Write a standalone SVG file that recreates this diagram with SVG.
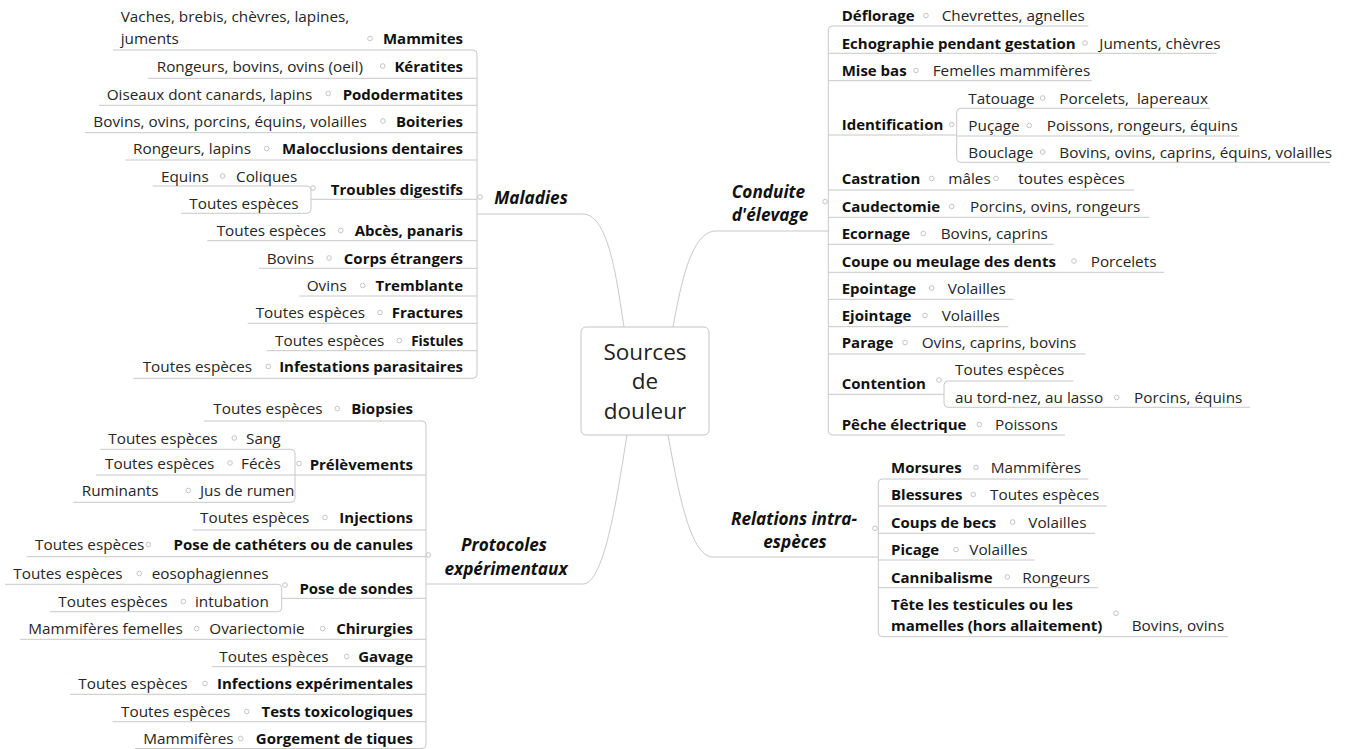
<svg xmlns="http://www.w3.org/2000/svg" width="1362" height="749" viewBox="0 0 1362 749">
<style>
text{font-family:"Open Sans","Noto Sans","DejaVu Sans",sans-serif;}
.r{font-size:15.3px;fill:#262626;}
.b{font-size:15px;font-weight:bold;fill:#111;}
.e{text-anchor:end;}
.m{text-anchor:middle;}
.bi{font-size:17.2px;font-weight:bold;font-style:italic;fill:#111;text-anchor:middle;}
.c{font-size:22.5px;fill:#222;text-anchor:middle;}
.ln{fill:none;stroke:#c8c8c8;stroke-width:1;}
.d{fill:#fff;stroke:#c4c4c4;stroke-width:1;}
</style>
<rect width="1362" height="749" fill="#fff"/>
<g id="connectors" class="ln">
<path d="M477,214 H583 C610,214 618,290 624,327"/>
<path d="M828.3,231 H716 C690,231 680,290 673,327"/>
<path d="M426,584 H583 C605,584 618,490 627,435"/>
<path d="M878.3,557 H713 C690,557 678,490 668,435"/>
<path d="M113,50 H473 Q477,50 477,54 V374.3 Q477,378.3 473,378.3 H133.3"/>
<path d="M147.7,78.3 H477 M99,105.3 H477 M85,132.7 H477 M125,160 H477 M311,199.3 H477 M207.3,240.7 H477 M259,268.3 H477 M299.3,296 H477 M247.7,323.3 H477 M266.7,350.7 H477"/>
<path d="M152.7,186 H307 Q311,186 311,190 V209.3 Q311,213.3 307,213.3 H181"/>
<path d="M204,421 H422 Q426,421 426,425 V744.5 Q426,748.5 422,748.5 H135"/>
<path d="M295,475 H426 M192.7,530 H426 M26.7,556.7 H426 M281.7,598.3 H426 M20,639.3 H426 M211.7,666.7 H426 M70,694.3 H426 M112.7,721.7 H426"/>
<path d="M100,449.3 H291 Q295,449.3 295,453.3 V498.3 Q295,502.3 291,502.3 H73.3 M96,475 H295"/>
<path d="M5,584.3 H277.7 Q281.7,584.3 281.7,588.3 V607.7 Q281.7,611.7 277.7,611.7 H50"/>
<path d="M1088.3,26 H832.3 Q828.3,26 828.3,30 V431 Q828.3,435 832.3,435 H1065"/>
<path d="M828.3,53.3 H1216.7 M828.3,80.7 H1091.7 M828.3,135 H956.7 M828.3,190 H1134.3 M828.3,217.3 H1149.3 M828.3,244.3 H1053.3 M828.3,272.3 H1164 M828.3,299.3 H1013.3 M828.3,326.7 H1008.3 M828.3,354 H1085.7 M828.3,394.3 H944"/>
<path d="M1210,108.3 H960.7 Q956.7,108.3 956.7,112.3 V158.3 Q956.7,162.3 960.7,162.3 H1330 M956.7,136 H1239.3"/>
<path d="M1073.3,381 H948 Q944,381 944,385 V403.3 Q944,407.3 948,407.3 H1250"/>
<path d="M1088.3,479 H882.3 Q878.3,479 878.3,483 V632.7 Q878.3,636.7 882.3,636.7 H1228.3"/>
<path d="M878.3,506 H1106.7 M878.3,533.3 H1095 M878.3,560 H1035 M878.3,587.7 H1098.3"/>
</g>
<g id="center">
<rect x="581" y="327" width="128" height="108" rx="5" fill="#fff" stroke="#c4c4c4"/>
<text class="c" x="645" y="359.5">Sources</text>
<text class="c" x="645" y="389">de</text>
<text class="c" x="645" y="418.5">douleur</text>
</g>
<g id="maladies">
<text class="bi" x="531" y="204.3">Maladies</text>
<circle class="d" cx="480" cy="197" r="2.3"/>
</g>
<g id="conduite">
<text class="bi" x="768.5" y="198">Conduite</text>
<text class="bi" x="770" y="221.3">d'élevage</text>
<circle class="d" cx="825" cy="201.7" r="2.3"/>
</g>
<g id="protocoles">
<text class="bi" x="504" y="551.3">Protocoles</text>
<text class="bi" x="506" y="574.5">expérimentaux</text>
<circle class="d" cx="428.3" cy="555" r="2.3"/>
</g>
<g id="relations">
<text class="bi" x="794" y="524.5">Relations intra-</text>
<text class="bi" x="795" y="548">espèces</text>
<circle class="d" cx="875" cy="528.3" r="2.3"/>
</g>

<g id="mammites"><text class="r" x="120.7" y="22">Vaches, brebis, chèvres, lapines,</text><text class="r" x="120.7" y="44.3">juments</text><circle class="d" cx="370" cy="38.5" r="2.3"/><text class="b e" x="463" y="44.3">Mammites</text></g>
<g id="keratites"><text class="r" x="156.7" y="72">Rongeurs, bovins, ovins (oeil)</text><circle class="d" cx="382.7" cy="66" r="2.3"/><text class="b e" x="463" y="72">Kératites</text></g>
<g id="pododermatites"><text class="r" x="106.7" y="99.5">Oiseaux dont canards, lapins</text><circle class="d" cx="328.3" cy="93.5" r="2.3"/><text class="b e" x="463" y="99.5">Pododermatites</text></g>
<g id="boiteries"><text class="r" x="93.3" y="126.7">Bovins, ovins, porcins, équins, volailles</text><circle class="d" cx="383" cy="121" r="2.3"/><text class="b e" x="463" y="126.7">Boiteries</text></g>
<g id="malocclusions"><text class="r" x="133" y="154.3">Rongeurs, lapins</text><circle class="d" cx="266.7" cy="148.5" r="2.3"/><text class="b e" x="463" y="154.3">Malocclusions dentaires</text></g>
<g id="troubles"><text class="b e" x="463" y="195.3">Troubles digestifs</text><circle class="d" cx="313" cy="188" r="2.3"/>
<text class="r" x="161" y="181.7">Equins</text><circle class="d" cx="222.7" cy="176" r="2.3"/><text class="r" x="236" y="181.7">Coliques</text>
<text class="r" x="189.3" y="209.3">Toutes espèces</text></g>
<g id="abces"><text class="r" x="216.7" y="236">Toutes espèces</text><circle class="d" cx="340.7" cy="230.5" r="2.3"/><text class="b e" x="463" y="236">Abcès, panaris</text></g>
<g id="corps"><text class="r" x="266.7" y="263.7">Bovins</text><circle class="d" cx="329" cy="258" r="2.3"/><text class="b e" x="463" y="263.7">Corps étrangers</text></g>
<g id="tremblante"><text class="r" x="306.7" y="291">Ovins</text><circle class="d" cx="362.7" cy="285.5" r="2.3"/><text class="b e" x="463" y="291">Tremblante</text></g>
<g id="fractures"><text class="r" x="255.7" y="318">Toutes espèces</text><circle class="d" cx="380" cy="312.5" r="2.3"/><text class="b e" x="463" y="318">Fractures</text></g>
<g id="fistules"><text class="r" x="275" y="346">Toutes espèces</text><circle class="d" cx="399.3" cy="340.5" r="2.3"/><text class="b e" x="463.3" y="346" style="font-size:13.6px">Fistules</text></g>
<g id="infestations"><text class="r" x="142.7" y="372">Toutes espèces</text><circle class="d" cx="268.3" cy="366.5" r="2.3"/><text class="b e" x="463" y="372">Infestations parasitaires</text></g>

<g id="biopsies"><text class="r" x="213.3" y="414.3">Toutes espèces</text><circle class="d" cx="337.3" cy="408.5" r="2.3"/><text class="b e" x="413" y="414.3">Biopsies</text></g>
<g id="prelevements"><text class="b e" x="413" y="470">Prélèvements</text><circle class="d" cx="299" cy="463.5" r="2.3"/>
<text class="r" x="108.3" y="443.7">Toutes espèces</text><circle class="d" cx="234.3" cy="438" r="2.3"/><text class="r" x="246" y="443.7">Sang</text>
<text class="r" x="105" y="468.7">Toutes espèces</text><circle class="d" cx="230" cy="463" r="2.3"/><text class="r" x="241" y="468.7">Fécès</text>
<text class="r" x="81.7" y="496">Ruminants</text><circle class="d" cx="188.3" cy="490.5" r="2.3"/><text class="r" x="200" y="496">Jus de rumen</text></g>
<g id="injections"><text class="r" x="200" y="523.3">Toutes espèces</text><circle class="d" cx="325" cy="517.5" r="2.3"/><text class="b e" x="413" y="523.3">Injections</text></g>
<g id="catheters"><text class="r" x="35" y="550.3">Toutes espèces</text><circle class="d" cx="148.3" cy="544.5" r="2.3"/><text class="b e" x="413" y="550.3">Pose de cathéters ou de canules</text></g>
<g id="sondes"><text class="b e" x="413" y="594.3">Pose de sondes</text><circle class="d" cx="285" cy="585" r="2.3"/>
<text class="r" x="13.3" y="579.3">Toutes espèces</text><circle class="d" cx="139.3" cy="573.5" r="2.3"/><text class="r" x="151.7" y="579.3">eosophagiennes</text>
<text class="r" x="58.3" y="607">Toutes espèces</text><circle class="d" cx="183.3" cy="601.5" r="2.3"/><text class="r" x="195" y="607">intubation</text></g>
<g id="chirurgies"><text class="r" x="28.3" y="634.3">Mammifères femelles</text><circle class="d" cx="196.7" cy="628.5" r="2.3"/><text class="r" x="209.3" y="634.3">Ovariectomie</text><circle class="d" cx="322.7" cy="628.5" r="2.3"/><text class="b e" x="413" y="634.3">Chirurgies</text></g>
<g id="gavage"><text class="r" x="219.3" y="662">Toutes espèces</text><circle class="d" cx="346.7" cy="656.5" r="2.3"/><text class="b e" x="413" y="662">Gavage</text></g>
<g id="infections"><text class="r" x="78.3" y="689.3">Toutes espèces</text><circle class="d" cx="205" cy="683.5" r="2.3"/><text class="b e" x="413" y="689.3">Infections expérimentales</text></g>
<g id="tests"><text class="r" x="121" y="717">Toutes espèces</text><circle class="d" cx="246.7" cy="711.5" r="2.3"/><text class="b e" x="413" y="717">Tests toxicologiques</text></g>
<g id="gorgement"><text class="r" x="143.3" y="744.3">Mammifères</text><circle class="d" cx="240.7" cy="738.5" r="2.3"/><text class="b e" x="413" y="744.3">Gorgement de tiques</text></g>

<g id="deflorage"><text class="b" x="841.7" y="21">Déflorage</text><circle class="d" cx="926" cy="15.5" r="2.3"/><text class="r" x="941.7" y="21">Chevrettes, agnelles</text></g>
<g id="echographie"><text class="b" x="841.7" y="48.7">Echographie pendant gestation</text><circle class="d" cx="1085" cy="43" r="2.3"/><text class="r" x="1099.3" y="48.7">Juments, chèvres</text></g>
<g id="misebas"><text class="b" x="841.7" y="76">Mise bas</text><circle class="d" cx="916" cy="70.5" r="2.3"/><text class="r" x="932.7" y="76">Femelles mammifères</text></g>
<g id="identification"><text class="b" x="841.7" y="130">Identification</text><circle class="d" cx="951.7" cy="124.5" r="2.3"/>
<text class="r" x="968.3" y="103.7">Tatouage</text><circle class="d" cx="1042.7" cy="98" r="2.3"/><text class="r" x="1059.3" y="103.7" xml:space="preserve">Porcelets,  lapereaux</text>
<text class="r" x="968.3" y="131">Puçage</text><circle class="d" cx="1029.3" cy="125.5" r="2.3"/><text class="r" x="1046.7" y="131">Poissons, rongeurs, équins</text>
<text class="r" x="968.3" y="157.7">Bouclage</text><circle class="d" cx="1042.7" cy="152" r="2.3"/><text class="r" x="1059.3" y="157.7">Bovins, ovins, caprins, équins, volailles</text></g>
<g id="castration"><text class="b" x="841.7" y="184.3">Castration</text><circle class="d" cx="931.7" cy="178.5" r="2.3"/><text class="r" x="948.3" y="184.3">mâles</text><circle class="d" cx="996" cy="178.5" r="2.3"/><text class="r" x="1018.3" y="184.3">toutes espèces</text></g>
<g id="caudectomie"><text class="b" x="841.7" y="212">Caudectomie</text><circle class="d" cx="951.7" cy="206.5" r="2.3"/><text class="r" x="970" y="212">Porcins, ovins, rongeurs</text></g>
<g id="ecornage"><text class="b" x="841.7" y="239.3">Ecornage</text><circle class="d" cx="923.3" cy="233.5" r="2.3"/><text class="r" x="940.7" y="239.3">Bovins, caprins</text></g>
<g id="coupe"><text class="b" x="841.7" y="266.7">Coupe ou meulage des dents</text><circle class="d" cx="1074" cy="261" r="2.3"/><text class="r" x="1090.7" y="266.7">Porcelets</text></g>
<g id="epointage"><text class="b" x="841.7" y="293.7">Epointage</text><circle class="d" cx="931.7" cy="288" r="2.3"/><text class="r" x="947.7" y="293.7">Volailles</text></g>
<g id="ejointage"><text class="b" x="841.7" y="321">Ejointage</text><circle class="d" cx="925" cy="315.5" r="2.3"/><text class="r" x="941.7" y="321">Volailles</text></g>
<g id="parage"><text class="b" x="841.7" y="348.3">Parage</text><circle class="d" cx="905" cy="342.5" r="2.3"/><text class="r" x="921.7" y="348.3">Ovins, caprins, bovins</text></g>
<g id="contention"><text class="b" x="841.7" y="388.7">Contention</text><circle class="d" cx="939" cy="380" r="2.3"/>
<text class="r" x="955" y="375.3">Toutes espèces</text>
<text class="r" x="955" y="403.3">au tord-nez, au lasso</text><circle class="d" cx="1116.7" cy="397.5" r="2.3"/><text class="r" x="1134" y="403.3">Porcins, équins</text></g>
<g id="peche"><text class="b" x="841.7" y="430.3">Pêche électrique</text><circle class="d" cx="979.3" cy="424.5" r="2.3"/><text class="r" x="995" y="430.3">Poissons</text></g>

<g id="morsures"><text class="b" x="891" y="473.3">Morsures</text><circle class="d" cx="976" cy="467.5" r="2.3"/><text class="r" x="990.7" y="473.3">Mammifères</text></g>
<g id="blessures"><text class="b" x="891" y="500.3">Blessures</text><circle class="d" cx="973.3" cy="494.5" r="2.3"/><text class="r" x="990" y="500.3">Toutes espèces</text></g>
<g id="coups"><text class="b" x="891" y="527.7">Coups de becs</text><circle class="d" cx="1012.7" cy="522" r="2.3"/><text class="r" x="1028.3" y="527.7">Volailles</text></g>
<g id="picage"><text class="b" x="891" y="555.3">Picage</text><circle class="d" cx="956" cy="549.5" r="2.3"/><text class="r" x="969.3" y="555.3">Volailles</text></g>
<g id="cannibalisme"><text class="b" x="891" y="582.7">Cannibalisme</text><circle class="d" cx="1007.3" cy="577" r="2.3"/><text class="r" x="1022.3" y="582.7">Rongeurs</text></g>
<g id="tete"><text class="b" x="891" y="610">Tête les testicules ou les</text><text class="b" x="891" y="631">mamelles (hors allaitement)</text><circle class="d" cx="1116" cy="613.3" r="2.3"/><text class="r" x="1131.7" y="631">Bovins, ovins</text></g>
</svg>
